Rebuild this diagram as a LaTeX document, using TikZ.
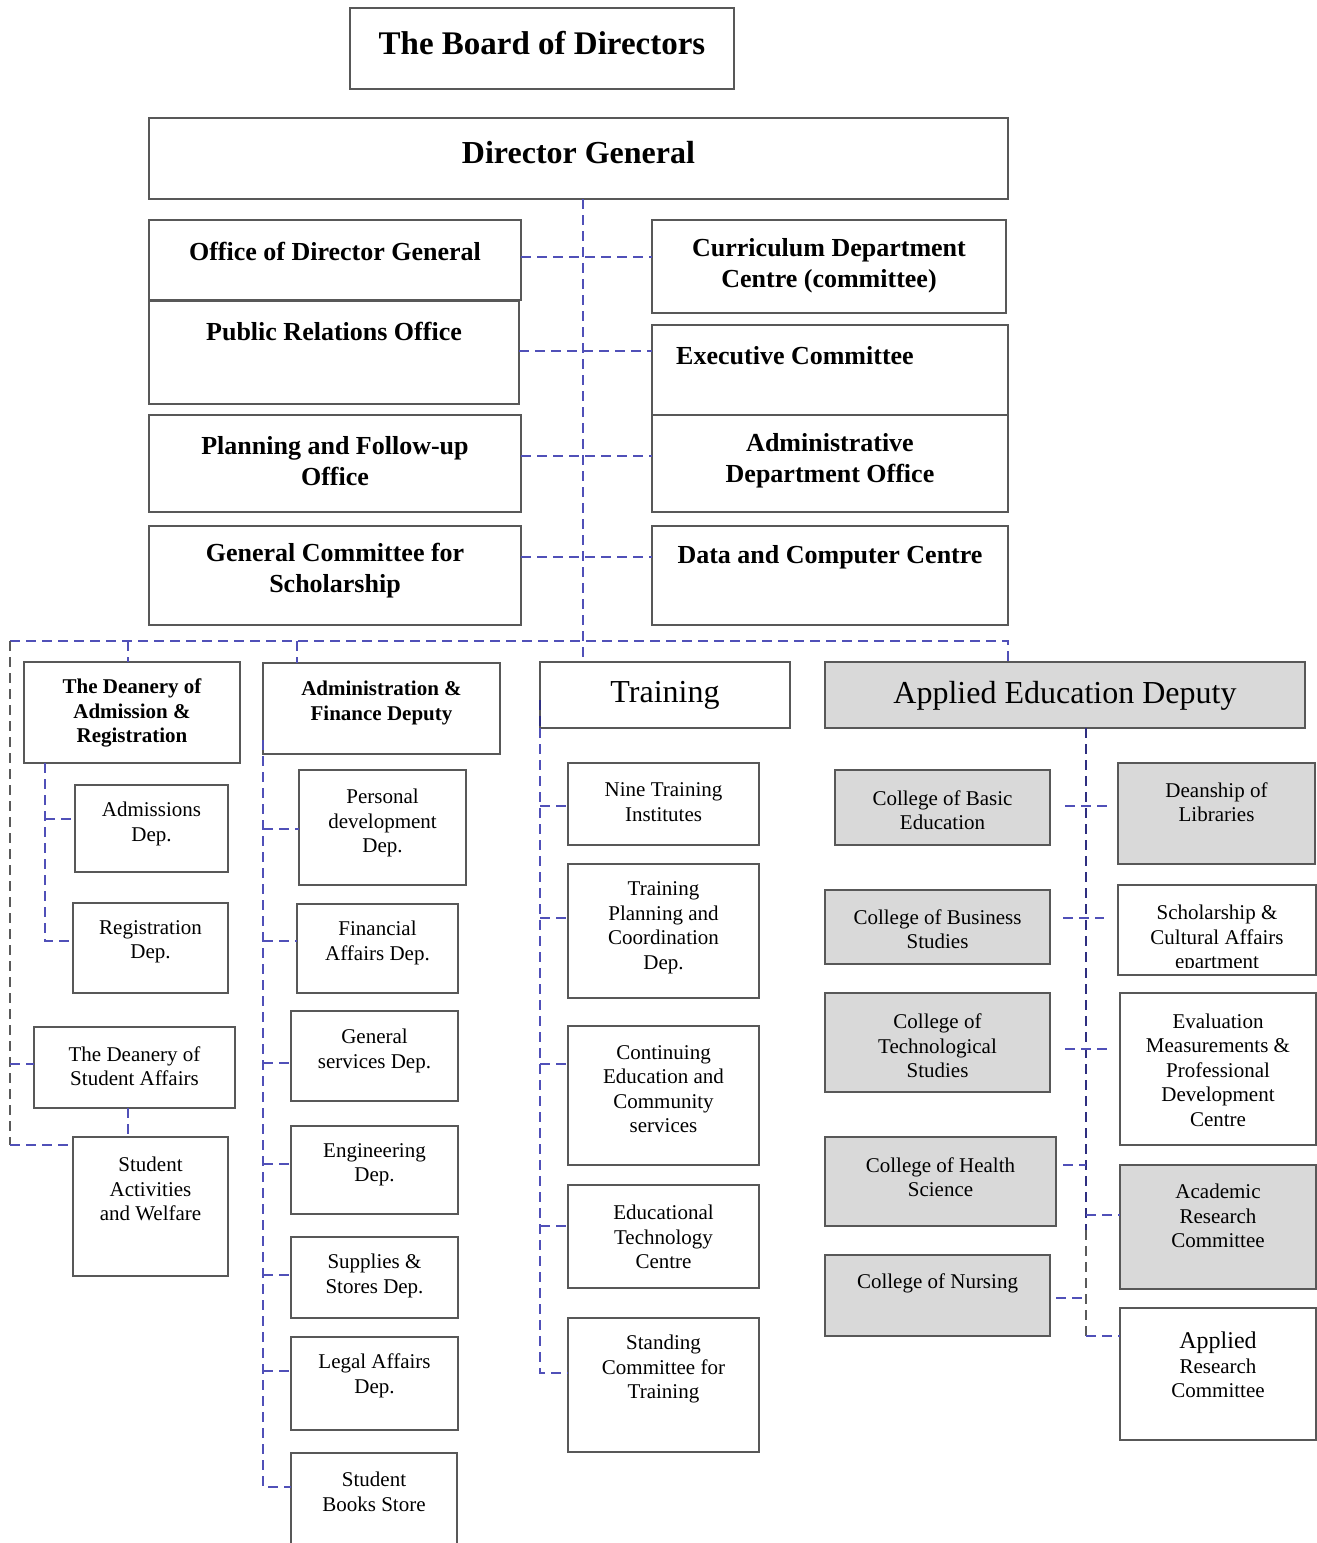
\documentclass[tikz,border=0pt]{standalone}
\usepackage{fontspec}
\setmainfont{Liberation Serif}
\usetikzlibrary{calc}
\definecolor{boxgray}{HTML}{585858}
\definecolor{fillgray}{HTML}{D9D9D9}
\definecolor{linkblue}{HTML}{5050B8}
\definecolor{linknavy}{HTML}{2E2E80}
\definecolor{linkgray}{HTML}{5A5A5A}
% \bx{name}{box style}{text style}{x1}{y1}{x2}{y2}{text centre y}{text}
\newcommand\bx[9]{%
  \node[#2, minimum width={#6-#4}, minimum height={#7-#5}] (#1) at (#4,#5) {};
  \node[#3] at ({(#4+#6)/2},{#8+3}) {#9};
}
\begin{document}
\begin{tikzpicture}[x=1pt,y=-1pt,
  box/.style={draw=boxgray, line width=2.8pt, fill=white, inner sep=0pt, outer sep=0pt, anchor=north west},
  gbox/.style={box, fill=fillgray},
  tbase/.style={align=center, inner sep=0pt, text=black},
  tboard/.style={tbase, font=\fontsize{33}{38}\selectfont\bfseries},
  tdg/.style={tbase, font=\fontsize{32}{36}\selectfont\bfseries},
  ttop/.style={tbase, font=\fontsize{26}{31}\selectfont\bfseries},
  tdean/.style={tbase, font=\fontsize{21}{24.5}\selectfont\bfseries},
  tb/.style={tbase, font=\fontsize{21}{24.5}\selectfont},
  ttr/.style={tbase, font=\fontsize{32}{36}\selectfont},
  conn/.style={draw=linkblue, line width=2.5pt, dash pattern=on 10pt off 6pt},
  connnavy/.style={draw=linknavy, line width=2.6pt, dash pattern=on 10pt off 6pt},
  conngray/.style={draw=linkgray, line width=2.5pt, dash pattern=on 10pt off 6pt}]
\useasboundingbox (0,0) rectangle (1317,1543);

% ---------- top level ----------
\bx{board}{box}{tboard}{350}{8}{734}{89}{40}{The Board of Directors}
\bx{dg}{box}{tdg}{149}{118}{1008}{199}{150}{Director General}

\bx{odg}{box}{ttop}{149}{220}{521}{300}{248}{Office of Director General}
\bx{pro}{box}{ttop}{149}{301}{519}{404}{328}{Public Relations Office}
\bx{pfo}{box}{ttop}{149}{415}{521}{512}{458}{Planning and Follow-up\\Office}
\bx{gcs}{box}{ttop}{149}{526}{521}{625}{568}{General Committee for\\Scholarship}

\bx{cdc}{box}{ttop}{652}{220}{1006}{313}{263}{Curriculum Department\\Centre (committee)}
\node[box, minimum width=356, minimum height=90] (exe) at (652,325) {};
\node[ttop] at (795,356) {Executive Committee};
\bx{ado}{box}{ttop}{652}{415}{1008}{512}{458}{Administrative\\Department Office}
\bx{dcc}{box}{ttop}{652}{526}{1008}{625}{554}{Data and Computer Centre}

% ---------- deanery of admission & student affairs ----------
\bx{dar}{box}{tdean}{24}{662}{240}{763}{710}{The Deanery of\\Admission \&\\Registration}
\bx{adm}{box}{tb}{75}{785}{228}{872}{821}{Admissions\\Dep.}
\bx{reg}{box}{tb}{73}{903}{228}{993}{939}{Registration\\Dep.}
\bx{dsa}{box}{tb}{34}{1027}{235}{1108}{1063}{The Deanery of\\Student Affairs}
\bx{sact}{box}{tb}{73}{1137}{228}{1276}{1186}{Student\\Activities\\and Welfare}

% ---------- administration & finance ----------
\bx{afd}{box}{tdean}{263}{663}{500}{754}{700}{Administration \&\\Finance Deputy}
\bx{pdd}{box}{tb}{299}{770}{466}{885}{820}{Personal\\development\\Dep.}
\bx{fin}{box}{tb}{297}{904}{458}{993}{940}{Financial\\Affairs Dep.}
\bx{gsd}{box}{tb}{291}{1011}{458}{1101}{1048}{General\\services Dep.}
\bx{eng}{box}{tb}{291}{1126}{458}{1214}{1162}{Engineering\\Dep.}
\bx{sup}{box}{tb}{291}{1237}{458}{1318}{1273}{Supplies \&\\Stores Dep.}
\bx{leg}{box}{tb}{291}{1337}{458}{1430}{1373}{Legal Affairs\\Dep.}
\bx{books}{box}{tb}{291}{1453}{457}{1600}{1489}{Student\\Books Store}

% ---------- training ----------
\bx{training}{box}{ttr}{540}{662}{790}{728}{692}{Training}
\bx{nti}{box}{tb}{568}{763}{759}{845}{799}{Nine Training\\Institutes}
\bx{tpc}{box}{tb}{568}{864}{759}{998}{925}{Training\\Planning and\\Coordination\\Dep.}
\bx{cec}{box}{tb}{568}{1026}{759}{1165}{1086}{Continuing\\Education and\\Community\\services}
\bx{etc}{box}{tb}{568}{1185}{759}{1288}{1234}{Educational\\Technology\\Centre}
\bx{sct}{box}{tb}{568}{1318}{759}{1452}{1366}{Standing\\Committee for\\Training}

% ---------- applied education ----------
\bx{aed}{gbox}{ttr}{825}{662}{1305}{728}{693}{Applied Education Deputy}
\bx{cbe}{gbox}{tb}{835}{770}{1050}{845}{807}{College of Basic\\Education}
\bx{cbs}{gbox}{tb}{825}{890}{1050}{964}{926}{College of Business\\Studies}
\bx{cts}{gbox}{tb}{825}{993}{1050}{1092}{1043}{College of\\Technological\\Studies}
\bx{chs}{gbox}{tb}{825}{1137}{1056}{1226}{1174}{College of Health\\Science}
\bx{cn}{gbox}{tb}{825}{1255}{1050}{1336}{1280}{College of Nursing}

\bx{lib}{gbox}{tb}{1118}{763}{1315}{864}{799}{Deanship of\\Libraries}
\node[box, minimum width=198, minimum height=90] (sca) at (1118,885) {};
\begin{scope}
  \clip (1118,885) rectangle (1316,967);
  \node[tb] at (1217,939) {Scholarship \&\\Cultural Affairs\\epartment};
\end{scope}
\bx{emp}{box}{tb}{1120}{993}{1316}{1145}{1067}{Evaluation\\Measurements \&\\Professional\\Development\\Centre}
\bx{acr}{gbox}{tb}{1120}{1165}{1316}{1289}{1213}{Academic\\Research\\Committee}
\bx{arc}{box}{tb}{1120}{1308}{1316}{1440}{1362}{\fontsize{24}{28}\selectfont Applied\\Research\\\fontsize{21}{24.5}\selectfont Committee}

% ---------- connectors: director general ----------
\coordinate (trunk) at (583,0);
\coordinate (bl) at (10,641);
\coordinate (br) at (1008,641);
\draw[conn] (dg.south -| trunk) -- (training.north -| trunk);
\draw[conn] (odg.east |- 0,257) -- (cdc.west |- 0,257);
\draw[conn] (pro.east |- 0,351) -- (exe.west |- 0,351);
\draw[conn] (pfo.east |- 0,456) -- (ado.west |- 0,456);
\draw[conn] (gcs.east |- 0,557) -- (dcc.west |- 0,557);

% bus
\draw[conn] (bl) -- (br) -- (aed.north -| br);
\draw[conn] (bl -| 128,0) -- (dar.north -| 128,0);
\draw[conn] (bl -| 297,0) -- (afd.north -| 297,0);
\draw[conngray] (bl) -- (bl |- 0,1145);
\draw[conn] (bl |- 0,1145) -- (sact.west |- 0,1145);
\draw[conn] (bl |- 0,1064) -- (dsa.west |- 0,1064);
\draw[conn] (dsa.south -| 128,0) -- (sact.north -| 128,0);

% deanery of admission
\draw[conn] (dar.south -| 45,0) -- (45,941) -- (reg.west |- 0,941);
\draw[conn] (45,819) -- (adm.west |- 0,819);

% administration & finance
\draw[conn] (afd.west |- 0,740) -- (afd.west |- 0,1487) -- (books.west |- 0,1487);
\draw[conn] (afd.west |- 0,829) -- (pdd.west |- 0,829);
\draw[conn] (afd.west |- 0,941) -- (fin.west |- 0,941);
\draw[conn] (afd.west |- 0,1063) -- (gsd.west |- 0,1063);
\draw[conn] (afd.west |- 0,1164) -- (eng.west |- 0,1164);
\draw[conn] (afd.west |- 0,1275) -- (sup.west |- 0,1275);
\draw[conn] (afd.west |- 0,1371) -- (leg.west |- 0,1371);

% training
\draw[connnavy] (training.west |- 0,700) -- (training.south west);
\draw[conn] (training.south west) -- (training.west |- 0,1373) -- (sct.west |- 0,1373);
\draw[conn] (training.west |- 0,806) -- (nti.west |- 0,806);
\draw[conn] (training.west |- 0,918) -- (tpc.west |- 0,918);
\draw[conn] (training.west |- 0,1064) -- (cec.west |- 0,1064);
\draw[conn] (training.west |- 0,1226) -- (etc.west |- 0,1226);

% applied education
\coordinate (at) at (1086,0);
\draw[connnavy] (aed.south -| at) -- (at |- 0,1230);
\draw[conngray] (at |- 0,1230) -- (at |- 0,1336);
\draw[conn] (at |- 0,1336) -- (arc.west |- 0,1336);
\draw[conn] (at |- 0,1215) -- (acr.west |- 0,1215);
\draw[conn] ($(cbe.east |- 0,806)+(15,0)$) -- ($(lib.west |- 0,806)+(-11,0)$);
\draw[conn] ($(cbs.east |- 0,918)+(13,0)$) -- ($(sca.west |- 0,918)+(-14,0)$);
\draw[conn] ($(cts.east |- 0,1049)+(15,0)$) -- ($(emp.west |- 0,1049)+(-13,0)$);
\draw[conn] ($(chs.east |- 0,1165)+(7,0)$) -- (at |- 0,1165);
\draw[conn] ($(cn.east |- 0,1298)+(6,0)$) -- (at |- 0,1298);
\end{tikzpicture}
\end{document}
